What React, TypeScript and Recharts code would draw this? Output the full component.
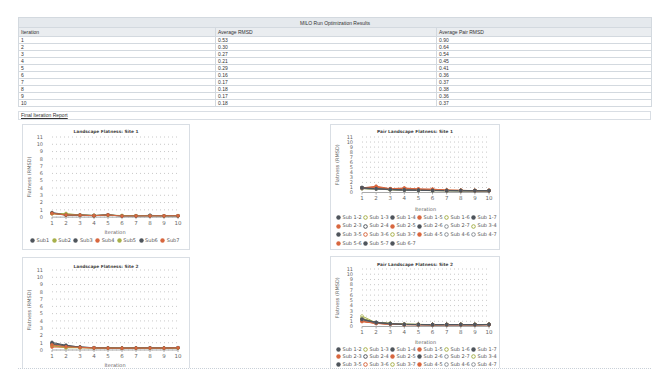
import React from 'react';
import { LineChart, Line, XAxis, YAxis, CartesianGrid, Legend } from 'recharts';

const iterations = [1, 2, 3, 4, 5, 6, 7, 8, 9, 10];
const avgRmsd = ['0.53', '0.30', '0.27', '0.21', '0.29', '0.16', '0.17', '0.18', '0.17', '0.18'];
const avgPairRmsd = ['0.90', '0.64', '0.54', '0.45', '0.41', '0.36', '0.37', '0.38', '0.36', '0.37'];
const yTicks = [0, 1, 2, 3, 4, 5, 6, 7, 8, 9, 10, 11];

const DARK = '#4f555c';
const OLIVE = '#a7b04a';
const ORANGE = '#d8673f';
const GRAY = '#8a9096';

const subNames = ['Sub1', 'Sub2', 'Sub3', 'Sub4', 'Sub5', 'Sub6', 'Sub7'];
const subColors = [DARK, OLIVE, DARK, ORANGE, OLIVE, DARK, ORANGE];
const subHollow = [false, false, false, false, false, false, false];

const pairNames = [
  'Sub 1-2', 'Sub 1-3', 'Sub 1-4', 'Sub 1-5', 'Sub 1-6', 'Sub 1-7',
  'Sub 2-3', 'Sub 2-4', 'Sub 2-5', 'Sub 2-6', 'Sub 2-7', 'Sub 3-4',
  'Sub 3-5', 'Sub 3-6', 'Sub 3-7', 'Sub 4-5', 'Sub 4-6', 'Sub 4-7',
  'Sub 5-6', 'Sub 5-7', 'Sub 6-7',
];
const pairColors = [
  DARK, OLIVE, DARK, ORANGE, OLIVE, DARK,
  ORANGE, DARK, ORANGE, DARK, GRAY, OLIVE,
  DARK, ORANGE, OLIVE, ORANGE, GRAY, GRAY,
  ORANGE, DARK, DARK,
];
const pairHollow = [
  false, true, false, false, true, false,
  false, true, false, false, true, true,
  false, true, true, false, true, true,
  false, false, false,
];

const site1Subs = [
  [0.62, 0.35, 0.30, 0.24, 0.30, 0.18, 0.19, 0.22, 0.17, 0.18],
  [0.45, 0.50, 0.28, 0.22, 0.25, 0.20, 0.18, 0.20, 0.19, 0.20],
  [0.55, 0.30, 0.32, 0.20, 0.33, 0.15, 0.16, 0.25, 0.15, 0.17],
  [0.48, 0.28, 0.25, 0.21, 0.28, 0.16, 0.17, 0.17, 0.18, 0.19],
  [0.50, 0.32, 0.26, 0.23, 0.27, 0.22, 0.20, 0.18, 0.16, 0.18],
  [0.58, 0.27, 0.24, 0.19, 0.30, 0.14, 0.15, 0.16, 0.17, 0.17],
  [0.52, 0.30, 0.27, 0.20, 0.29, 0.15, 0.16, 0.16, 0.17, 0.18],
];

const site2Subs = [
  [1.05, 0.65, 0.40, 0.32, 0.28, 0.26, 0.28, 0.30, 0.27, 0.30],
  [0.55, 0.35, 0.30, 0.28, 0.25, 0.24, 0.26, 0.25, 0.26, 0.27],
  [0.80, 0.55, 0.38, 0.30, 0.27, 0.25, 0.27, 0.28, 0.26, 0.32],
  [0.40, 0.40, 0.33, 0.27, 0.26, 0.24, 0.25, 0.26, 0.25, 0.28],
  [0.65, 0.30, 0.35, 0.29, 0.27, 0.25, 0.26, 0.27, 0.26, 0.29],
  [0.90, 0.60, 0.42, 0.31, 0.28, 0.26, 0.27, 0.29, 0.27, 0.31],
  [0.70, 0.45, 0.36, 0.29, 0.26, 0.25, 0.26, 0.27, 0.26, 0.30],
];

const site1Pairs = [
  [1.00, 0.85, 0.70, 0.55, 0.50, 0.42, 0.40, 0.38, 0.36, 0.37],
  [0.85, 0.80, 0.65, 0.60, 0.48, 0.45, 0.42, 0.40, 0.38, 0.36],
  [0.95, 0.78, 0.62, 0.52, 0.47, 0.40, 0.38, 0.37, 0.35, 0.36],
  [0.90, 1.25, 0.75, 0.90, 0.70, 0.68, 0.45, 0.42, 0.38, 0.37],
  [0.80, 0.70, 0.60, 0.50, 0.45, 0.40, 0.39, 0.38, 0.37, 0.36],
  [0.92, 0.75, 0.63, 0.50, 0.46, 0.41, 0.39, 0.37, 0.36, 0.35],
  [0.88, 0.95, 0.70, 0.62, 0.55, 0.50, 0.42, 0.40, 0.37, 0.38],
  [0.82, 0.72, 0.58, 0.49, 0.44, 0.39, 0.38, 0.36, 0.35, 0.36],
  [0.86, 0.90, 0.68, 0.70, 0.60, 0.55, 0.43, 0.41, 0.38, 0.37],
  [0.90, 0.74, 0.60, 0.51, 0.45, 0.40, 0.38, 0.37, 0.36, 0.35],
  [0.84, 0.70, 0.57, 0.48, 0.43, 0.38, 0.37, 0.36, 0.35, 0.34],
  [0.78, 0.68, 0.55, 0.47, 0.42, 0.37, 0.36, 0.35, 0.34, 0.35],
  [0.96, 0.80, 0.64, 0.53, 0.48, 0.42, 0.40, 0.39, 0.37, 0.38],
  [0.83, 0.85, 0.66, 0.58, 0.50, 0.46, 0.41, 0.39, 0.36, 0.37],
  [0.80, 0.69, 0.56, 0.48, 0.44, 0.39, 0.37, 0.36, 0.35, 0.36],
  [0.87, 1.00, 0.72, 0.80, 0.65, 0.60, 0.44, 0.40, 0.37, 0.38],
  [0.81, 0.71, 0.58, 0.50, 0.44, 0.39, 0.38, 0.37, 0.36, 0.35],
  [0.79, 0.67, 0.55, 0.47, 0.43, 0.38, 0.37, 0.36, 0.35, 0.36],
  [0.89, 1.10, 0.70, 0.75, 0.62, 0.58, 0.43, 0.41, 0.38, 0.37],
  [0.93, 0.76, 0.61, 0.52, 0.46, 0.41, 0.39, 0.38, 0.36, 0.37],
  [0.91, 0.73, 0.60, 0.50, 0.45, 0.40, 0.38, 0.37, 0.36, 0.36],
];

const site2Pairs = [
  [1.40, 0.75, 0.55, 0.40, 0.38, 0.36, 0.37, 0.37, 0.36, 0.38],
  [2.00, 0.70, 0.60, 0.42, 0.39, 0.37, 0.38, 0.38, 0.37, 0.39],
  [1.30, 0.72, 0.52, 0.38, 0.37, 0.35, 0.36, 0.36, 0.35, 0.37],
  [1.10, 0.65, 0.50, 0.39, 0.38, 0.36, 0.37, 0.37, 0.36, 0.38],
  [1.60, 0.68, 0.58, 0.41, 0.39, 0.37, 0.38, 0.38, 0.37, 0.39],
  [1.35, 0.74, 0.54, 0.40, 0.38, 0.36, 0.37, 0.37, 0.36, 0.38],
  [1.20, 0.60, 0.48, 0.37, 0.36, 0.35, 0.36, 0.36, 0.35, 0.37],
  [1.25, 0.66, 0.50, 0.38, 0.37, 0.35, 0.36, 0.36, 0.35, 0.37],
  [1.00, 0.62, 0.47, 0.37, 0.36, 0.34, 0.35, 0.35, 0.34, 0.36],
  [1.45, 0.76, 0.56, 0.40, 0.38, 0.36, 0.37, 0.37, 0.36, 0.38],
  [1.15, 0.64, 0.49, 0.38, 0.37, 0.35, 0.36, 0.36, 0.35, 0.37],
  [1.50, 0.67, 0.57, 0.41, 0.39, 0.37, 0.38, 0.38, 0.37, 0.39],
  [1.38, 0.73, 0.53, 0.39, 0.38, 0.36, 0.37, 0.37, 0.36, 0.38],
  [0.95, 0.58, 0.46, 0.36, 0.35, 0.34, 0.35, 0.35, 0.34, 0.36],
  [1.55, 0.69, 0.59, 0.42, 0.40, 0.37, 0.38, 0.38, 0.37, 0.39],
  [1.05, 0.61, 0.47, 0.37, 0.36, 0.34, 0.35, 0.35, 0.34, 0.36],
  [1.28, 0.70, 0.51, 0.38, 0.37, 0.35, 0.36, 0.36, 0.35, 0.37],
  [1.22, 0.63, 0.49, 0.38, 0.36, 0.35, 0.36, 0.36, 0.35, 0.37],
  [0.98, 0.60, 0.46, 0.36, 0.35, 0.34, 0.35, 0.35, 0.34, 0.36],
  [1.42, 0.77, 0.55, 0.40, 0.38, 0.36, 0.37, 0.37, 0.36, 0.38],
  [1.33, 0.71, 0.53, 0.39, 0.37, 0.36, 0.37, 0.37, 0.36, 0.38],
];

const buildRows = (series: number[][]) =>
  iterations.map((it, i) => {
    const row: Record<string, number> = { iteration: it };
    series.forEach((s, k) => {
      row['s' + k] = s[i];
    });
    return row;
  });

const FONT = "'DejaVu Sans', sans-serif";

type ChartProps = {
  title: string;
  left: number;
  top: number;
  width: number;
  height: number;
  names: string[];
  colors: string[];
  hollow: boolean[];
  series: number[][];
  margin: { top: number; right: number; left: number; bottom: number };
  yWidth: number;
  xHeight: number;
  legendLeft: number;
  legendWidth: number;
  itemWidth?: number;
  legendAlign: 'left' | 'center';
  legendLine: number;
  titleTop: number;
  showLegend?: boolean;
};

const makeLegend = (
  names: string[],
  colors: string[],
  hollow: boolean[],
  itemWidth: number | undefined,
  align: string,
  lineH: number
) =>
  (props: any) => {
    const payload = props.payload || [];
    return (
      <ul
        style={{
          margin: 0,
          padding: 0,
          listStyle: 'none',
          textAlign: align as any,
          lineHeight: lineH + 'px',
          fontSize: 5,
          fontFamily: FONT,
          color: '#555',
          whiteSpace: itemWidth ? 'normal' : 'nowrap',
        }}
      >
        {payload.map((e: any) => {
          const idx = names.indexOf(e.value);
          const c = colors[idx] || e.color;
          const h = hollow[idx];
          return (
            <li
              key={e.value}
              style={{
                display: 'inline-block',
                width: itemWidth,
                marginRight: itemWidth ? 0 : 2.5,
                whiteSpace: 'nowrap',
                textAlign: 'left',
              }}
            >
              <svg width={5} height={5} style={{ display: 'inline-block', verticalAlign: 'middle', marginRight: 1.5 }}>
                <circle cx={2.5} cy={2.5} r={h ? 1.8 : 2.2} fill={h ? '#fff' : c} stroke={c} strokeWidth={h ? 1 : 0} />
              </svg>
              <span style={{ verticalAlign: 'middle' }}>{e.value}</span>
            </li>
          );
        })}
      </ul>
    );
  };

function FlatChart(p: ChartProps) {
  const data = buildRows(p.series);
  const showLegend = p.showLegend !== false;
  return (
    <div
      style={{
        position: 'absolute',
        left: p.left,
        top: p.top,
        width: p.width,
        height: p.height,
        border: '1px solid #d9dee4',
        boxSizing: 'border-box',
        background: '#fff',
      }}
    >
      <div
        style={{
          position: 'absolute',
          top: p.titleTop,
          left: 0,
          width: '100%',
          textAlign: 'center',
          fontFamily: FONT,
          fontWeight: 'bold',
          fontSize: 4.3,
          color: '#444',
          lineHeight: '6px',
        }}
      >
        {p.title}
      </div>
      <div style={{ position: 'absolute', left: -1, top: -1 }}>
        <LineChart width={p.width} height={p.height} data={data} margin={p.margin}>
          <CartesianGrid horizontal vertical={false} stroke="#c9c9c9" strokeDasharray="1 3" />
          <XAxis
            dataKey="iteration"
            type="number"
            domain={[1, 10]}
            ticks={iterations}
            interval={0}
            height={p.xHeight}
            tick={{ fontSize: 5.5, fill: '#666', fontFamily: FONT }}
            tickSize={2}
            tickMargin={2}
            stroke="#aaa"
            label={{ value: 'Iteration', position: 'insideBottom', offset: 2, style: { fontSize: 5, fill: '#666', fontFamily: FONT } }}
          />
          <YAxis
            type="number"
            domain={[0, 11]}
            ticks={yTicks}
            interval={0}
            width={p.yWidth}
            axisLine={false}
            tickLine={false}
            tickMargin={3}
            tick={{ fontSize: 5, fill: '#666', fontFamily: FONT }}
            label={{
              value: 'Flatness (RMSD)',
              angle: -90,
              position: 'insideLeft',
              offset: 7,
              style: { fontSize: 5, fill: '#666', fontFamily: FONT, textAnchor: 'middle' },
            }}
          />
          {showLegend && (
            <Legend
              verticalAlign="bottom"
              content={makeLegend(p.names, p.colors, p.hollow, p.itemWidth, p.legendAlign, p.legendLine)}
              wrapperStyle={{ left: p.legendLeft, width: p.legendWidth }}
            />
          )}
          {p.names.map((n, k) => (
            <Line
              key={n}
              name={n}
              dataKey={'s' + k}
              stroke={p.colors[k]}
              strokeWidth={1}
              isAnimationActive={false}
              dot={{ r: 1.4, fill: p.hollow[k] ? '#fff' : p.colors[k], stroke: p.colors[k], strokeWidth: 0.7 }}
            />
          ))}
        </LineChart>
      </div>
    </div>
  );
}

const cellBase: React.CSSProperties = {
  border: '1px solid #d3d9df',
  padding: '0 2px',
  textAlign: 'left',
  fontWeight: 'normal',
  overflow: 'hidden',
  whiteSpace: 'nowrap',
};

export default function App() {
  return (
    <div style={{ position: 'absolute', left: 0, top: 0, width: 668, height: 385, background: '#fff', overflow: 'hidden' }}>
      <div style={{ position: 'absolute', left: 0, top: 0, width: 668, height: 368, overflow: 'hidden' }}>
        <table
          style={{
            position: 'absolute',
            left: 18,
            top: 17,
            width: 633,
            borderCollapse: 'collapse',
            tableLayout: 'fixed',
            fontFamily: "'Liberation Sans', sans-serif",
            fontSize: 5,
            color: '#333',
          }}
        >
          <colgroup>
            <col style={{ width: 197 }} />
            <col style={{ width: 221 }} />
            <col style={{ width: 215 }} />
          </colgroup>
          <thead>
            <tr style={{ height: 10, background: '#e5e9ed' }}>
              <th colSpan={3} style={{ ...cellBase, textAlign: 'center' }}>
                MILO Run Optimization Results
              </th>
            </tr>
            <tr style={{ height: 9, background: '#eaedf0' }}>
              <th style={cellBase}>Iteration</th>
              <th style={cellBase}>Average RMSD</th>
              <th style={cellBase}>Average Pair RMSD</th>
            </tr>
          </thead>
          <tbody>
            {iterations.map((it, i) => (
              <tr key={it} style={{ height: 7 }}>
                <td style={cellBase}>{it}</td>
                <td style={cellBase}>{avgRmsd[i]}</td>
                <td style={cellBase}>{avgPairRmsd[i]}</td>
              </tr>
            ))}
          </tbody>
        </table>
        <div
          style={{
            position: 'absolute',
            left: 18,
            top: 111,
            width: 633,
            height: 9,
            border: '1px solid #d9dee4',
            boxSizing: 'border-box',
            fontFamily: "'Liberation Sans', sans-serif",
            fontSize: 5,
            lineHeight: '7px',
            color: '#333',
            paddingLeft: 2,
          }}
        >
          <span style={{ textDecoration: 'underline' }}>Final Iteration Report</span>
        </div>

        <FlatChart
          title="Landscape Flatness: Site 1"
          left={22}
          top={124}
          width={168}
          height={126}
          names={subNames}
          colors={subColors}
          hollow={subHollow}
          series={site1Subs}
          margin={{ top: 13, right: 12, left: 0, bottom: 5 }}
          yWidth={30}
          xHeight={19}
          legendLeft={2}
          legendWidth={164}
          legendAlign="center"
          legendLine={8.5}
          titleTop={4}
        />
        <FlatChart
          title="Pair Landscape Flatness: Site 1"
          left={330}
          top={124}
          width={170}
          height={126}
          names={pairNames}
          colors={pairColors}
          hollow={pairHollow}
          series={site1Pairs}
          margin={{ top: 13, right: 11, left: 0, bottom: 2 }}
          yWidth={32}
          xHeight={20}
          legendLeft={6}
          legendWidth={162}
          itemWidth={27}
          legendAlign="left"
          legendLine={8.5}
          titleTop={4}
        />
        <FlatChart
          title="Landscape Flatness: Site 2"
          left={22}
          top={257}
          width={168}
          height={126}
          names={subNames}
          colors={subColors}
          hollow={subHollow}
          series={site2Subs}
          margin={{ top: 13, right: 12, left: 0, bottom: 14 }}
          yWidth={30}
          xHeight={19}
          legendLeft={2}
          legendWidth={164}
          legendAlign="center"
          legendLine={8.5}
          titleTop={6}
          showLegend={false}
        />
        <FlatChart
          title="Pair Landscape Flatness: Site 2"
          left={330}
          top={256}
          width={170}
          height={126}
          names={pairNames}
          colors={pairColors}
          hollow={pairHollow}
          series={site2Pairs}
          margin={{ top: 13, right: 11, left: 0, bottom: 6 }}
          yWidth={32}
          xHeight={19}
          legendLeft={6}
          legendWidth={162}
          itemWidth={27}
          legendAlign="left"
          legendLine={7.5}
          titleTop={5}
        />
      </div>
      <div style={{ position: 'absolute', left: 18, top: 368, width: 633, height: 0, borderTop: '1px dotted #c9d0d8' }} />
    </div>
  );
}
